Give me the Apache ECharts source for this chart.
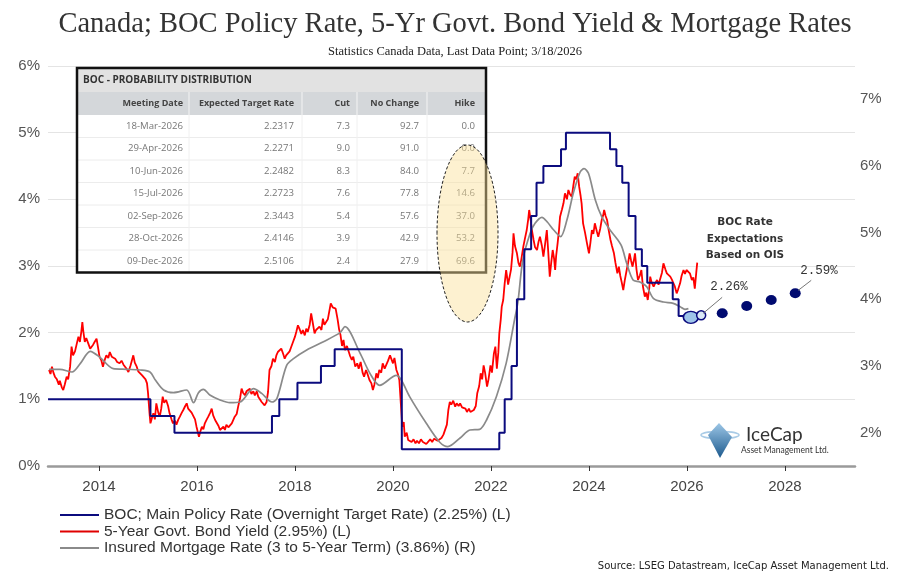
<!DOCTYPE html>
<html><head><meta charset="utf-8">
<script src="https://cdn.jsdelivr.net/npm/echarts@6/dist/echarts.min.js"></script>
<style>html,body{margin:0;padding:0;background:#fff}#c{width:910px;height:584px}</style>
</head><body><div id="c"></div>
<script>
// ---------- DATA ----------
const xTickYears = [2014, 2016, 2018, 2020, 2022, 2024, 2026, 2028];
const rightTicks = [2, 3, 4, 5, 6, 7];

// [decimal year, rate %] — value holds from that date on
const bocPolicy = [[2012.96,1.00],[2015.05,0.75],[2015.54,0.50],[2017.53,0.75],[2017.68,1.00],[2018.05,1.25],
  [2018.53,1.50],[2018.81,1.75],[2020.18,0.25],[2022.17,0.50],[2022.28,1.00],[2022.42,1.50],[2022.53,2.50],
  [2022.68,3.25],[2022.82,3.75],[2022.93,4.25],[2023.07,4.50],[2023.43,4.75],[2023.53,5.00],[2024.43,4.75],
  [2024.56,4.50],[2024.68,4.25],[2024.81,3.75],[2024.95,3.25],[2025.08,3.00],[2025.19,2.75],[2025.71,2.50],
  [2025.83,2.25],[2026.07,2.25]];

const bond5y = [[2012.98,1.44],[2013.01,1.38],[2013.04,1.49],[2013.07,1.40],[2013.10,1.34],[2013.14,1.30],[2013.18,1.22],
  [2013.20,1.28],[2013.24,1.18],[2013.27,1.14],[2013.30,1.22],[2013.34,1.34],[2013.37,1.30],[2013.41,1.49],[2013.44,1.79],
  [2013.47,1.66],[2013.51,1.72],[2013.54,1.69],[2013.58,1.94],[2013.61,1.86],[2013.64,2.02],[2013.66,2.16],[2013.68,2.02],
  [2013.71,1.86],[2013.74,1.92],[2013.78,1.84],[2013.82,1.76],[2013.85,1.74],[2013.88,1.82],[2013.91,1.86],[2013.95,1.91],
  [2013.98,1.78],[2014.01,1.64],[2014.05,1.58],[2014.08,1.49],[2014.12,1.60],[2014.15,1.66],[2014.19,1.62],[2014.22,1.71],
  [2014.26,1.64],[2014.30,1.66],[2014.33,1.61],[2014.37,1.56],[2014.42,1.54],[2014.46,1.58],[2014.50,1.52],[2014.53,1.49],
  [2014.57,1.45],[2014.60,1.41],[2014.64,1.50],[2014.67,1.58],[2014.70,1.66],[2014.73,1.55],[2014.77,1.49],[2014.80,1.42],
  [2014.84,1.44],[2014.88,1.36],[2014.91,1.39],[2014.95,1.30],[2014.98,1.24],[2015.00,1.10],[2015.03,0.80],[2015.05,0.64],
  [2015.08,0.72],[2015.11,0.79],[2015.14,0.70],[2015.17,0.94],[2015.21,0.80],[2015.24,0.74],[2015.27,0.86],[2015.30,1.04],
  [2015.33,0.95],[2015.37,0.99],[2015.41,0.90],[2015.44,0.79],[2015.48,0.70],[2015.51,0.64],[2015.55,0.68],[2015.58,0.62],
  [2015.62,0.70],[2015.65,0.74],[2015.69,0.80],[2015.72,0.84],[2015.76,0.90],[2015.79,0.94],[2015.82,0.86],[2015.85,0.84],
  [2015.89,0.80],[2015.92,0.79],[2015.96,0.70],[2015.99,0.59],[2016.02,0.50],[2016.04,0.44],[2016.07,0.52],[2016.10,0.59],
  [2016.13,0.55],[2016.16,0.64],[2016.20,0.70],[2016.23,0.74],[2016.27,0.80],[2016.30,0.86],[2016.33,0.76],[2016.37,0.69],
  [2016.40,0.66],[2016.44,0.60],[2016.47,0.54],[2016.50,0.56],[2016.54,0.59],[2016.57,0.54],[2016.60,0.62],[2016.64,0.58],
  [2016.67,0.60],[2016.71,0.64],[2016.74,0.66],[2016.77,0.74],[2016.81,0.78],[2016.84,0.89],[2016.88,1.02],[2016.91,1.16],
  [2016.94,1.10],[2016.98,1.06],[2017.01,1.12],[2017.05,1.10],[2017.08,1.16],[2017.11,1.08],[2017.15,1.12],[2017.18,1.06],
  [2017.22,1.12],[2017.25,1.04],[2017.28,1.04],[2017.32,0.96],[2017.35,0.98],[2017.38,0.91],[2017.42,0.96],[2017.45,1.11],
  [2017.48,1.44],[2017.52,1.50],[2017.55,1.61],[2017.59,1.56],[2017.62,1.66],[2017.65,1.71],[2017.69,1.68],[2017.72,1.76],
  [2017.76,1.68],[2017.79,1.61],[2017.82,1.66],[2017.85,1.64],[2017.89,1.72],[2017.93,1.80],[2017.96,1.86],[2018.00,1.94],
  [2018.03,2.02],[2018.06,2.11],[2018.09,2.06],[2018.13,1.98],[2018.16,2.04],[2018.20,1.96],[2018.23,2.06],[2018.26,2.01],
  [2018.30,2.12],[2018.33,2.29],[2018.36,2.16],[2018.40,1.99],[2018.43,2.04],[2018.47,2.06],[2018.50,2.09],[2018.54,2.04],
  [2018.57,2.21],[2018.60,2.12],[2018.63,2.14],[2018.67,2.20],[2018.70,2.32],[2018.73,2.44],[2018.77,2.38],[2018.80,2.41],
  [2018.83,2.36],[2018.87,2.20],[2018.90,2.05],[2018.93,1.96],[2018.96,1.80],[2018.99,1.89],[2019.02,1.74],[2019.06,1.80],
  [2019.09,1.79],[2019.12,1.66],[2019.16,1.59],[2019.19,1.64],[2019.23,1.49],[2019.27,1.54],[2019.30,1.46],[2019.34,1.56],
  [2019.38,1.40],[2019.41,1.34],[2019.45,1.44],[2019.48,1.38],[2019.52,1.29],[2019.56,1.24],[2019.59,1.14],[2019.62,1.22],
  [2019.66,1.39],[2019.69,1.32],[2019.72,1.44],[2019.76,1.40],[2019.79,1.54],[2019.83,1.46],[2019.86,1.49],[2019.90,1.58],
  [2019.94,1.66],[2019.97,1.60],[2020.00,1.54],[2020.03,1.62],[2020.07,1.44],[2020.10,1.38],[2020.13,1.29],[2020.16,0.94],
  [2020.19,0.59],[2020.22,0.66],[2020.24,0.44],[2020.28,0.50],[2020.31,0.39],[2020.35,0.42],[2020.38,0.36],[2020.42,0.40],
  [2020.46,0.34],[2020.49,0.38],[2020.53,0.34],[2020.57,0.40],[2020.61,0.36],[2020.65,0.38],[2020.68,0.33],[2020.72,0.34],
  [2020.76,0.40],[2020.80,0.36],[2020.84,0.41],[2020.88,0.44],[2020.91,0.38],[2020.95,0.39],[2020.99,0.42],[2021.03,0.47],
  [2021.07,0.50],[2021.10,0.62],[2021.13,0.84],[2021.16,0.96],[2021.19,0.92],[2021.23,0.98],[2021.27,0.89],[2021.30,0.94],
  [2021.34,0.90],[2021.37,0.94],[2021.41,0.88],[2021.44,0.91],[2021.48,0.86],[2021.51,0.81],[2021.55,0.86],[2021.58,0.81],
  [2021.62,0.78],[2021.65,0.84],[2021.69,0.90],[2021.72,1.09],[2021.76,1.20],[2021.79,1.39],[2021.82,1.30],[2021.85,1.51],
  [2021.88,1.40],[2021.92,1.19],[2021.95,1.30],[2021.99,1.51],[2022.02,1.40],[2022.06,1.69],[2022.09,1.79],[2022.12,1.46],
  [2022.15,1.70],[2022.17,1.99],[2022.20,2.20],[2022.22,2.39],[2022.25,2.49],[2022.28,2.74],[2022.31,2.94],[2022.35,2.72],
  [2022.38,2.69],[2022.41,2.95],[2022.44,3.20],[2022.46,3.49],[2022.49,3.30],[2022.53,3.19],[2022.56,3.05],[2022.59,2.99],
  [2022.62,3.10],[2022.66,3.29],[2022.69,3.40],[2022.73,3.54],[2022.76,3.70],[2022.78,3.84],[2022.81,3.69],[2022.84,3.52],
  [2022.87,3.39],[2022.90,3.28],[2022.94,3.24],[2022.97,3.36],[2023.00,3.44],[2023.04,3.30],[2023.07,3.14],[2023.10,3.30],
  [2023.14,3.54],[2023.17,3.20],[2023.20,2.84],[2023.23,3.05],[2023.26,3.24],[2023.29,3.10],[2023.31,2.94],[2023.33,3.15],
  [2023.36,3.34],[2023.39,3.55],[2023.41,3.74],[2023.45,3.85],[2023.48,3.94],[2023.51,4.09],[2023.55,4.00],[2023.58,4.14],
  [2023.61,4.08],[2023.65,4.04],[2023.68,4.20],[2023.71,4.34],[2023.74,4.30],[2023.77,4.39],[2023.80,4.19],[2023.83,4.05],
  [2023.85,3.94],[2023.88,3.64],[2023.92,3.50],[2023.96,3.34],[2024.00,3.19],[2024.03,3.35],[2024.06,3.54],[2024.09,3.48],
  [2024.12,3.64],[2024.16,3.52],[2024.19,3.44],[2024.23,3.56],[2024.26,3.69],[2024.29,3.76],[2024.31,3.84],[2024.34,3.75],
  [2024.37,3.69],[2024.40,3.55],[2024.44,3.39],[2024.47,3.30],[2024.51,3.19],[2024.54,3.05],[2024.58,2.89],[2024.61,2.99],
  [2024.64,2.85],[2024.67,2.75],[2024.70,2.64],[2024.73,2.78],[2024.77,2.94],[2024.80,3.05],[2024.83,3.19],[2024.86,3.08],
  [2024.89,2.99],[2024.92,3.10],[2024.94,3.19],[2024.97,2.95],[2025.00,2.79],[2025.04,2.86],[2025.07,2.94],[2025.10,2.70],
  [2025.14,2.54],[2025.17,2.60],[2025.20,2.49],[2025.23,2.66],[2025.25,2.84],[2025.28,2.75],[2025.32,2.69],[2025.35,2.74],
  [2025.39,2.79],[2025.42,2.72],[2025.45,2.74],[2025.49,2.90],[2025.52,3.04],[2025.56,2.95],[2025.59,2.89],[2025.62,2.92],
  [2025.66,2.84],[2025.69,2.80],[2025.72,2.79],[2025.75,2.70],[2025.79,2.59],[2025.82,2.65],[2025.86,2.74],[2025.89,2.85],
  [2025.93,2.94],[2025.96,2.88],[2025.99,2.94],[2026.03,2.92],[2026.06,2.89],[2026.10,2.79],[2026.13,2.83],[2026.16,2.66],
  [2026.19,2.90],[2026.21,3.05]];

const mortgage = [[2012.98,2.95],[2013.20,2.95],[2013.45,2.91],[2013.62,3.04],[2013.82,3.22],[2014.02,3.13],[2014.29,2.96],
  [2014.57,2.95],[2014.84,2.94],[2015.04,2.91],[2015.15,2.79],[2015.32,2.64],[2015.52,2.60],[2015.79,2.64],[2015.93,2.45],
  [2016.03,2.60],[2016.13,2.65],[2016.27,2.56],[2016.47,2.49],[2016.67,2.45],[2016.88,2.46],[2017.15,2.66],[2017.32,2.59],
  [2017.53,2.46],[2017.63,2.51],[2017.83,3.01],[2017.97,3.11],[2018.24,3.24],[2018.57,3.36],[2018.92,3.50],[2019.02,3.59],
  [2019.33,3.19],[2019.53,2.89],[2019.73,2.71],[2020.07,2.86],[2020.17,2.79],[2020.34,2.54],[2020.68,2.14],[2020.95,1.86],
  [2021.12,1.79],[2021.37,1.92],[2021.57,2.04],[2021.77,2.05],[2021.91,2.19],[2022.11,2.54],[2022.31,3.04],[2022.48,3.69],
  [2022.55,3.96],[2022.65,4.59],[2022.80,4.99],[2022.90,5.14],[2023.04,5.23],[2023.15,5.16],[2023.28,5.04],[2023.42,4.94],
  [2023.55,5.19],[2023.68,5.59],[2023.82,5.91],[2023.90,5.96],[2023.99,5.89],[2024.13,5.49],[2024.26,5.24],[2024.43,5.04],
  [2024.57,4.91],[2024.67,4.79],[2024.77,4.54],[2024.90,4.29],[2025.04,4.26],[2025.18,4.19],[2025.32,4.01],[2025.52,3.96],
  [2025.72,3.94],[2025.86,3.89],[2025.96,3.85],[2026.03,3.86]];

const oisDates = [2026.08, 2026.29, 2026.72, 2027.22, 2027.72, 2028.21];
const oisRates = [2.23, 2.26, 2.29, 2.40, 2.49, 2.59];
const oisLabelled = {1: '2.26%', 5: '2.59%'};

const tblTitle = 'BOC - PROBABILITY DISTRIBUTION';
const tblHeaders = ['Meeting Date', 'Expected Target Rate', 'Cut', 'No Change', 'Hike'];
const tblDates = ['18-Mar-2026','29-Apr-2026','10-Jun-2026','15-Jul-2026','02-Sep-2026','28-Oct-2026','09-Dec-2026'];
const tblExpected = ['2.2317','2.2271','2.2482','2.2723','2.3443','2.4146','2.5106'];
const tblCut = ['7.3','9.0','8.3','7.6','5.4','3.9','2.4'];
const tblNoChange = ['92.7','91.0','84.0','77.8','57.6','42.9','27.9'];
const tblHike = ['0.0','0.0','7.7','14.6','37.0','53.2','69.6'];

const names = ['BOC; Main Policy Rate (Overnight Target Rate) (2.25%) (L)',
  '5-Year Govt. Bond Yield (2.95%) (L)',
  'Insured Mortgage Rate (3 to 5-Year Term) (3.86%) (R)'];

// ---------- CHART ----------
const chart = echarts.init(document.getElementById('c'));
const NAVY = '#0b0b7e';
const oisData = oisDates.map((d, i) => {
  const it = {value: [d, oisRates[i]]};
  if (i === 0) { it.symbolSize = [15, 12]; it.itemStyle = {color: '#9ec5ea', borderColor: NAVY, borderWidth: 1.5}; }
  else if (i === 1) { it.symbolSize = [9, 9]; it.itemStyle = {color: '#dbe9f7', borderColor: NAVY, borderWidth: 1.5}; }
  else { it.symbolSize = [11, 10]; it.itemStyle = {color: '#000a70', opacity: 1}; }
  return it;
});

chart.setOption({
  animation: false,
  backgroundColor: '#fff',
  title: [
    {text: 'Canada; BOC Policy Rate, 5-Yr Govt. Bond Yield & Mortgage Rates', left: 'center', top: 5,
     textStyle: {fontFamily: 'Liberation Serif', fontSize: 28.5, fontWeight: 'normal', color: '#333'}},
    {text: 'Statistics Canada Data, Last Data Point; 3/18/2026', left: 'center', top: 40,
     textStyle: {fontFamily: 'Liberation Serif', fontSize: 12.5, fontWeight: 'normal', color: '#222'}},
    {text: 'Source: LSEG Datastream, IceCap Asset Management Ltd.', right: 16, top: 556,
     textStyle: {fontFamily: 'DejaVu Sans', fontSize: 10, fontWeight: 'normal', color: '#222'}}
  ],
  grid: {left: 48, right: 55, top: 66, bottom: 118, containLabel: false},
  legend: {
    data: names, orient: 'vertical', left: 55, top: 502, itemWidth: 39, itemHeight: 2, itemGap: 0.5,
    icon: 'rect', selectedMode: false,
    textStyle: {fontFamily: 'Liberation Sans', fontSize: 15.5, color: '#333', lineHeight: 15}
  },
  xAxis: {
    type: 'value', min: 2012.959, max: 2029.43, offset: 4,
    axisLine: {show: true, lineStyle: {color: '#9a9a9a', width: 2.5}},
    axisTick: {show: true, customValues: xTickYears, length: 5, lineStyle: {color: '#333'}},
    axisLabel: {customValues: xTickYears, formatter: v => String(v), margin: 9,
      fontFamily: 'Liberation Sans', fontSize: 15, color: '#444'},
    splitLine: {show: false}
  },
  yAxis: [
    {type: 'value', min: 0, max: 6, interval: 1, position: 'left',
     axisLine: {show: false}, axisTick: {show: false},
     axisLabel: {formatter: '{value}%', margin: 8, fontFamily: 'Liberation Sans', fontSize: 15, color: '#555'},
     splitLine: {show: true, lineStyle: {color: ['#333', '#e4e4e4', '#e4e4e4', '#e4e4e4', '#e4e4e4', '#e4e4e4', '#e4e4e4'], width: 1.2}}},
    {type: 'value', min: 1.5, max: 7.5, position: 'right',
     axisLine: {show: false}, axisTick: {show: false},
     axisLabel: {customValues: rightTicks, formatter: '{value}%', margin: 5, fontFamily: 'Liberation Sans', fontSize: 15, color: '#555'},
     splitLine: {show: false}}
  ],
  series: [
    {name: names[0], type: 'line', step: 'end', data: bocPolicy, yAxisIndex: 0, showSymbol: false, symbol: 'none',
     lineStyle: {color: NAVY, width: 2}, itemStyle: {color: NAVY}, z: 4},
    {name: names[1], type: 'line', data: bond5y, yAxisIndex: 0, showSymbol: false, symbol: 'none',
     lineStyle: {color: '#ff0000', width: 1.8}, itemStyle: {color: '#e00000'}, z: 2},
    {name: names[2], type: 'line', data: mortgage, yAxisIndex: 1, showSymbol: false, symbol: 'none', smooth: 0.3,
     lineStyle: {color: '#8a8a8a', width: 1.7}, itemStyle: {color: '#8a8a8a'}, z: 3},
    {name: 'OIS', type: 'scatter', data: oisData, yAxisIndex: 0, symbol: 'circle', z: 5, itemStyle: {opacity: 1}}
  ]
});

// ---------- GRAPHICS (table, annotations, logo) ----------
const g = [];
const tx = 77, ty = 68, tw = 409;
const titleH = 24, headH = 23, rowH = 22.5;
const colRight = [183, 294, 350, 419, 475];
const colSep = [189, 302, 357, 427];
const tblFont = 'Open Sans';
g.push({type: 'rect', shape: {x: tx, y: ty, width: tw, height: titleH + headH + rowH * tblDates.length}, style: {fill: '#fff'}, z: 10});
g.push({type: 'rect', shape: {x: tx, y: ty, width: tw, height: titleH}, style: {fill: '#e2e2e2'}, z: 11});
g.push({type: 'text', x: tx + 6, y: ty + titleH / 2, style: {text: tblTitle, fill: '#333', font: 'bold 10px "' + tblFont + '"', verticalAlign: 'middle'}, z: 12});
g.push({type: 'rect', shape: {x: tx, y: ty + titleH, width: tw, height: headH}, style: {fill: '#d4d7da'}, z: 11});
colSep.forEach(cx => g.push({type: 'line', shape: {x1: cx, y1: ty + titleH, x2: cx, y2: ty + titleH + headH}, style: {stroke: '#f4f4f4', lineWidth: 1}, z: 12}));
tblHeaders.forEach((h, i) => g.push({type: 'text', x: colRight[i], y: ty + titleH + headH / 2,
  style: {text: h, fill: '#444', font: 'bold 9px "' + tblFont + '"', align: 'right', verticalAlign: 'middle'}, z: 12}));
const rows = tblDates.map((d, i) => [d, tblExpected[i], tblCut[i], tblNoChange[i], tblHike[i]]);
const y0 = ty + titleH + headH;
rows.forEach((r, ri) => {
  const yc = y0 + rowH * ri + rowH / 2;
  if (ri > 0) g.push({type: 'line', shape: {x1: tx, y1: y0 + rowH * ri, x2: tx + tw, y2: y0 + rowH * ri}, style: {stroke: '#ececec', lineWidth: 1}, z: 11});
  r.forEach((v, ci) => g.push({type: 'text', x: colRight[ci], y: yc,
    style: {text: v, fill: '#777', font: '9.6px "' + tblFont + '"', align: 'right', verticalAlign: 'middle'}, z: 12}));
});
colSep.forEach(cx => g.push({type: 'line', shape: {x1: cx, y1: y0, x2: cx, y2: y0 + rowH * rows.length}, style: {stroke: '#f0f0f0', lineWidth: 1}, z: 11}));
g.push({type: 'rect', shape: {x: tx, y: ty, width: tw, height: titleH + headH + rowH * rows.length}, style: {fill: 'none', stroke: '#111', lineWidth: 2.5}, z: 13});
// dashed highlight ellipse
g.push({type: 'ellipse', shape: {cx: 467.5, cy: 233.5, rx: 30.5, ry: 88.5},
  style: {fill: 'rgba(250,225,150,0.45)', stroke: '#222', lineWidth: 1, lineDash: [3, 2]}, z: 14});

// OIS annotation text
g.push({type: 'text', x: 745, y: 239, style: {text: 'BOC Rate\nExpectations\nBased on OIS', fill: '#333',
  font: 'bold 10.5px "DejaVu Sans"', align: 'center', verticalAlign: 'middle', lineHeight: 16.5}, z: 15});
Object.keys(oisLabelled).forEach(k => {
  const i = +k;
  const p = chart.convertToPixel({xAxisIndex: 0, yAxisIndex: 0}, [oisDates[i], oisRates[i]]);
  const off = i === 1 ? {t: [9, -29], a: [2, -2], b: [21, -18]} : {t: [5, -23], a: [3, -3], b: [16, -13]};
  g.push({type: 'line', shape: {x1: p[0] + off.a[0], y1: p[1] + off.a[1], x2: p[0] + off.b[0], y2: p[1] + off.b[1]},
    style: {stroke: '#777', lineWidth: 1}, z: 15});
  g.push({type: 'text', x: p[0] + off.t[0], y: p[1] + off.t[1], style: {text: oisLabelled[k], fill: '#333',
    font: '12.5px "Liberation Mono"', verticalAlign: 'middle'}, z: 15});
});

// IceCap logo
g.push({type: 'ellipse', shape: {cx: 720, cy: 435, rx: 19, ry: 3.5}, style: {fill: 'none', stroke: '#a9cbe6', lineWidth: 1.5}, z: 15});
g.push({type: 'polygon', shape: {points: [[719, 423], [708, 435], [720, 458], [732, 437]]},
  style: {fill: new echarts.graphic.LinearGradient(0, 0, 0, 1, [{offset: 0, color: '#9cc6e6'}, {offset: 1, color: '#1d5a8e'}])}, z: 16});
g.push({type: 'text', x: 746, y: 435, style: {text: 'IceCap', fill: '#333', font: '19px Lato', verticalAlign: 'middle'}, z: 16});
g.push({type: 'text', x: 741, y: 450, style: {text: 'Asset Management Ltd.', fill: '#333', font: '8.5px Lato', verticalAlign: 'middle'}, z: 16});

chart.setOption({graphic: {elements: g}});
</script></body></html>
